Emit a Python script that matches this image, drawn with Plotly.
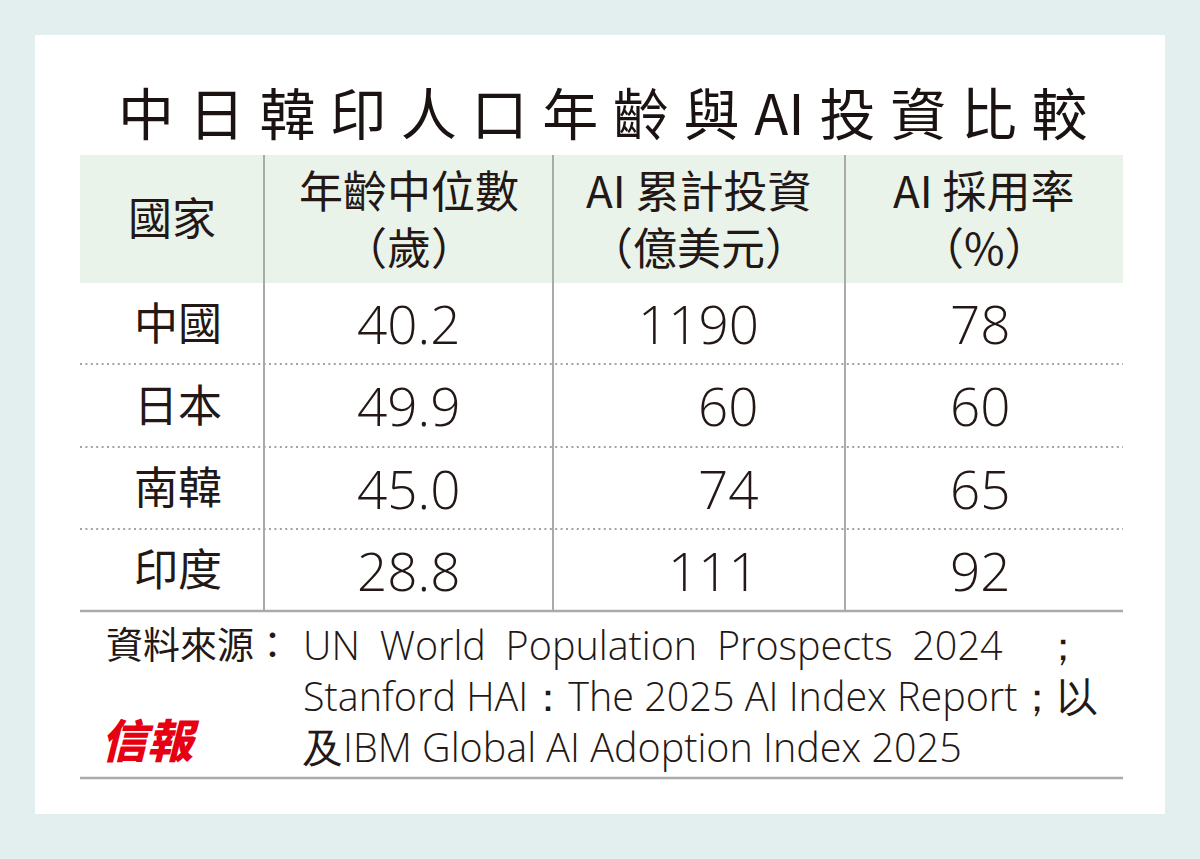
import plotly.graph_objects as go

# ---- data ----
title = "中日韓印人口年齡與AI投資比較"
header_line1 = ["國家", "年齡中位數", "AI 累計投資", "AI 採用率"]
header_line2 = ["", "（歲）", "（億美元）", "（%）"]
countries = ["中國", "日本", "南韓", "印度"]
median_age = ["40.2", "49.9", "45.0", "28.8"]
ai_investment = ["1190", "60", "74", "111"]
ai_adoption = ["78", "60", "65", "92"]
source_label = "資料來源："
source_lines = [
    "UN\u2002World\u2002Population\u2002Prospects\u20022024　；",
    "Stanford HAI：The 2025 AI Index Report；以",
    "及IBM Global AI Adoption Index 2025",
]
logo = "信報"

# ---- layout constants ----
W, H = 1200, 859
BG = "#e2efee"
HEADER_FILL = "#e9f3ea"
LINE = "#aaaaaa"
TXT = "#231815"
CJK = "Noto Sans CJK TC"
NUM = "Open Sans"

col_edges = [80, 264, 553, 845, 1123]
header_top, header_bot = 155, 283
row_edges = [283, 364, 447, 529, 611]
source_bottom = 778

shapes = []
ann = []

# white panel
shapes.append(dict(type="rect", x0=35, x1=1165, y0=35, y1=814, fillcolor="white",
                   line=dict(width=0), layer="below"))
# header fill
shapes.append(dict(type="rect", x0=col_edges[0], x1=col_edges[-1], y0=header_top, y1=header_bot,
                   fillcolor=HEADER_FILL, line=dict(width=0), layer="below"))
# vertical lines
for x in col_edges[1:-1]:
    shapes.append(dict(type="line", x0=x, x1=x, y0=header_top, y1=row_edges[-1],
                       line=dict(color=LINE, width=2)))
# dotted separators
for y in row_edges[1:-1]:
    shapes.append(dict(type="line", x0=col_edges[0], x1=col_edges[-1], y0=y, y1=y,
                       line=dict(color="#a3a3a3", width=2.2, dash="2px,3.4px")))
# solid lines
for y in [row_edges[-1], source_bottom]:
    shapes.append(dict(type="line", x0=col_edges[0], x1=col_edges[-1], y0=y, y1=y,
                       line=dict(color=LINE, width=2.5)))

# title
def spaced(s, sep="\u2009"):
    out = []
    i = 0
    while i < len(s):
        if s[i:i+2] == "AI":
            out.append("AI")
            i += 2
        else:
            out.append(s[i])
            i += 1
    return sep.join(out)

ann.append(dict(x=603, y=110, text=spaced(title, "\u2009\u200a"), showarrow=False,
                xanchor="center", yanchor="middle",
                font=dict(family=CJK, size=56, color="#1a1311", weight=400)))

# header
centers = [(col_edges[i] + col_edges[i+1]) / 2 for i in range(4)]
hfont = dict(family=CJK, size=44, color=TXT, weight=400)
for i in range(4):
    if header_line2[i]:
        ann.append(dict(x=centers[i], y=189, text=header_line1[i], showarrow=False,
                        xanchor="center", yanchor="middle", font=hfont))
        ann.append(dict(x=centers[i], y=246, text=header_line2[i], showarrow=False,
                        xanchor="center", yanchor="middle", font=hfont))
    else:
        ann.append(dict(x=centers[i], y=216, text=header_line1[i], showarrow=False,
                        xanchor="center", yanchor="middle", font=hfont))

# body rows
for r in range(len(countries)):
    yc = (row_edges[r] + row_edges[r+1]) / 2
    ann.append(dict(x=178, y=yc - 3, text=countries[r], showarrow=False, xanchor="center",
                    yanchor="middle", font=dict(family=CJK, size=44, color=TXT, weight=400)))
    nf = dict(family=NUM, size=53, color=TXT, weight=300)
    ann.append(dict(x=408, y=yc, text=median_age[r], showarrow=False, xanchor="center",
                    yanchor="middle", font=nf))
    ann.append(dict(x=761, y=yc, text=ai_investment[r], showarrow=False, xanchor="right",
                    yanchor="middle", font=nf))
    ann.append(dict(x=1013, y=yc, text=ai_adoption[r], showarrow=False, xanchor="right",
                    yanchor="middle", font=nf))

# source
ann.append(dict(x=104, y=643, text=source_label, showarrow=False, xanchor="left",
                yanchor="middle", font=dict(family=CJK, size=37, color=TXT, weight=400)))
for k, line in enumerate(source_lines):
    ann.append(dict(x=301, y=645 + k * 51, text=line, showarrow=False, xanchor="left",
                    yanchor="middle", font=dict(family=NUM, size=39.5, color=TXT, weight=300)))

# logo
ann.append(dict(x=150, y=738, text=logo, showarrow=False, xanchor="center", yanchor="middle",
                font=dict(family=CJK, size=46, color="#e60012", weight=900, style="italic")))

fig = go.Figure()
fig.update_layout(
    width=W, height=H,
    margin=dict(l=0, r=0, t=0, b=0),
    paper_bgcolor=BG, plot_bgcolor=BG,
    xaxis=dict(range=[0, W], visible=False, fixedrange=True),
    yaxis=dict(range=[H, 0], visible=False, fixedrange=True),
    shapes=shapes, annotations=ann, showlegend=False,
)
fig.write_html("out.html", config={"displayModeBar": False},
               post_script="document.body.style.margin='0';document.body.style.background='#e2efee';")
